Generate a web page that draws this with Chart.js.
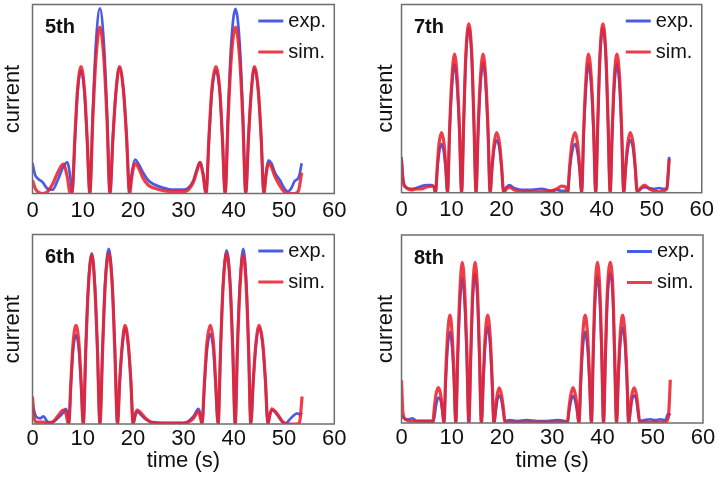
<!DOCTYPE html>
<html>
<head>
<meta charset="utf-8">
<script src="https://cdn.jsdelivr.net/npm/chart.js@4.4.1/dist/chart.umd.min.js"></script>
<style>
  html, body { margin: 0; padding: 0; background: #fff; }
  #wrap { position: relative; width: 718px; height: 481px; overflow: hidden; }
  #wrap canvas { position: absolute; }
</style>
</head>
<body>
<div id="wrap">
  <canvas id="p5" width="359" height="230" style="left:0;top:0"></canvas>
  <canvas id="p7" width="359" height="230" style="left:359px;top:0"></canvas>
  <canvas id="p6" width="359" height="251" style="left:0;top:230px"></canvas>
  <canvas id="p8" width="359" height="251" style="left:359px;top:230px"></canvas>
</div>
<script>
// values, current normalised to the panel height
const xTicks = [0, 10, 20, 30, 40, 50, 60];

const t5 = [0, 0.5, 1, 2, 3, 4, 5, 6.1, 6.9, 7.5,
  7.9, 8.45, 8.95, 9.65, 10.35, 10.85, 11.4,
  12.0, 12.6, 13.4, 14.2, 14.8, 15.4,
  16.0, 16.6, 17.3, 18.1, 18.7, 19.3,
  19.7, 20.4, 21, 22, 23, 24, 26, 28, 30, 31, 32, 32.7, 33.3, 33.9,
  34.5, 35.1, 35.65, 36.45, 37.25, 37.75, 38.3,
  38.9, 39.5, 40.35, 41.2, 41.8, 42.4,
  42.95, 43.5, 44.1, 44.9, 45.45, 46.0,
  46.4, 46.9, 47.5, 48.2, 49.2, 50.0, 50.8, 51.5, 52.1, 52.8, 53.1, 53.5];
const exp5 = [0.16, 0.10, 0.08, 0.06, 0.025, 0.02, 0.07, 0.14, 0.165, 0.09,
  0, 0.29, 0.53, 0.65, 0.53, 0.29, 0,
  0.44, 0.79, 0.98, 0.79, 0.44, 0,
  0.30, 0.54, 0.665, 0.54, 0.30, 0,
  0.10, 0.18, 0.16, 0.11, 0.07, 0.05, 0.03, 0.02, 0.02, 0.03, 0.07, 0.13, 0.165, 0.11,
  0, 0.29, 0.53, 0.65, 0.53, 0.29, 0,
  0.44, 0.79, 0.977, 0.79, 0.44, 0,
  0.30, 0.54, 0.665, 0.54, 0.30, 0,
  0.10, 0.175, 0.16, 0.11, 0.07, 0.03, 0.01, 0.03, 0.065, 0.08, 0.10, 0.16];
const sim5 = [0.07, 0.03, 0.01, 0, 0.01, 0.05, 0.11, 0.155, 0.09, 0,
  0.02, 0.31, 0.55, 0.672, 0.54, 0.30, 0,
  0.40, 0.71, 0.88, 0.71, 0.40, 0,
  0.30, 0.54, 0.672, 0.54, 0.30, 0,
  0.08, 0.16, 0.14, 0.08, 0.045, 0.03, 0.015, 0.01, 0.01, 0.02, 0.06, 0.12, 0.165, 0.10,
  0, 0.31, 0.55, 0.672, 0.54, 0.30, 0,
  0.40, 0.71, 0.88, 0.71, 0.40, 0,
  0.30, 0.54, 0.672, 0.54, 0.30, 0,
  0.09, 0.16, 0.14, 0.09, 0.04, 0.01, 0, 0, 0, 0.01, 0.04, 0.11];

const t6 = [0, 0.3, 0.7, 1.5, 2.2, 3.1, 4, 5, 6.1, 6.6, 7.0,
  7.2, 7.65, 8.05, 8.65, 9.25, 9.65, 10.1,
  10.6, 11.1, 11.8, 12.4, 12.9, 13.4,
  13.95, 14.45, 15.15, 15.85, 16.35, 16.9,
  17.35, 17.85, 18.4, 19.05, 19.55, 20.0,
  20.4, 20.8, 21.5, 22.3, 23.2, 24, 26, 28, 30, 31, 32, 33.0, 33.4,
  33.7, 34.2, 34.65, 35.35, 36.0, 36.4, 36.9,
  37.4, 37.9, 38.6, 39.3, 39.8, 40.3,
  40.75, 41.25, 41.9, 42.5, 42.95, 43.4,
  43.9, 44.4, 45.05, 45.8, 46.3, 46.8,
  47.2, 47.6, 48.3, 49.0, 49.6, 50.4, 51.0, 51.7, 52.6, 53.1, 53.6];
const exp6 = [0.10, 0.07, 0.04, 0.03, 0.04, 0.01, 0.01, 0.03, 0.06, 0.08, 0.05,
  0, 0.21, 0.38, 0.47, 0.38, 0.21, 0,
  0.40, 0.73, 0.90, 0.73, 0.40, 0,
  0.42, 0.75, 0.924, 0.75, 0.42, 0,
  0.23, 0.41, 0.506, 0.41, 0.23, 0,
  0.04, 0.065, 0.05, 0.03, 0.015, 0.01, 0.005, 0.005, 0.005, 0.015, 0.04, 0.08, 0.05,
  0, 0.21, 0.38, 0.475, 0.38, 0.21, 0,
  0.41, 0.74, 0.917, 0.74, 0.41, 0,
  0.42, 0.75, 0.924, 0.75, 0.42, 0,
  0.23, 0.41, 0.506, 0.41, 0.23, 0,
  0.05, 0.074, 0.06, 0.035, 0.015, 0.005, 0.02, 0.04, 0.056, 0.05, 0.06];
const sim6 = [0.145, 0.04, 0.01, 0.01, 0.01, 0.005, 0.01, 0.04, 0.074, 0.06, 0.01,
  0, 0.23, 0.42, 0.52, 0.42, 0.23, 0,
  0.40, 0.72, 0.894, 0.72, 0.40, 0,
  0.40, 0.73, 0.90, 0.73, 0.40, 0,
  0.23, 0.42, 0.52, 0.42, 0.23, 0,
  0.05, 0.074, 0.06, 0.035, 0.015, 0.005, 0.005, 0.005, 0.005, 0.01, 0.03, 0.065, 0.03,
  0, 0.23, 0.42, 0.52, 0.42, 0.23, 0,
  0.40, 0.73, 0.90, 0.73, 0.40, 0,
  0.40, 0.72, 0.894, 0.72, 0.40, 0,
  0.23, 0.42, 0.52, 0.42, 0.23, 0,
  0.05, 0.08, 0.065, 0.04, 0.015, 0, 0, 0, 0, 0.01, 0.145];

const t7 = [0, 0.3, 0.8, 2, 3, 4, 5, 6, 6.5,
  6.8, 7.15, 7.5, 8.0, 8.5, 8.85, 9.2,
  9.6, 10.05, 10.6, 11.15, 11.6, 12.0,
  12.45, 12.85, 13.45, 14.05, 14.45, 14.9,
  15.3, 15.75, 16.3, 16.85, 17.3, 17.7,
  18.1, 18.5, 19.0, 19.6, 20.0, 20.4,
  21.0, 21.6, 22.5, 24, 26, 28, 30, 31, 32, 32.8,
  33.2, 33.6, 34.05, 34.7, 35.2, 35.6, 36.0,
  36.4, 36.85, 37.35, 37.95, 38.4, 38.8,
  39.25, 39.65, 40.25, 40.85, 41.25, 41.7,
  42.1, 42.5, 43.05, 43.6, 44.0, 44.4,
  44.8, 45.2, 45.7, 46.3, 46.7, 47.1,
  47.8, 48.6, 49.5, 50.5, 51.5, 52.3, 53.0, 53.5];
const exp7 = [0.19, 0.08, 0.03, 0.02, 0.025, 0.035, 0.04, 0.04, 0.03,
  0, 0.12, 0.21, 0.26, 0.21, 0.12, 0,
  0.31, 0.55, 0.68, 0.55, 0.31, 0,
  0.39, 0.71, 0.874, 0.71, 0.39, 0,
  0.31, 0.56, 0.69, 0.56, 0.31, 0,
  0.13, 0.23, 0.28, 0.23, 0.13, 0.01,
  0.03, 0.04, 0.025, 0.015, 0.015, 0.02, 0.01, 0.015, 0.01, 0.01,
  0, 0.12, 0.21, 0.26, 0.21, 0.12, 0,
  0.31, 0.55, 0.685, 0.55, 0.31, 0,
  0.39, 0.71, 0.874, 0.71, 0.39, 0,
  0.31, 0.55, 0.685, 0.55, 0.31, 0,
  0.13, 0.23, 0.28, 0.23, 0.13, 0.01,
  0.02, 0.03, 0.025, 0.02, 0.025, 0.02, 0.02, 0.19];
const sim7 = [0.17, 0.06, 0.03, 0.015, 0.02, 0.02, 0.03, 0.035, 0.03,
  0, 0.14, 0.26, 0.32, 0.26, 0.14, 0,
  0.33, 0.60, 0.736, 0.60, 0.33, 0,
  0.40, 0.73, 0.897, 0.73, 0.40, 0,
  0.33, 0.60, 0.736, 0.60, 0.33, 0,
  0.14, 0.26, 0.32, 0.26, 0.14, 0,
  0.02, 0.03, 0.015, 0.005, 0.005, 0.005, 0.01, 0.02, 0.035, 0.03,
  0, 0.14, 0.26, 0.32, 0.26, 0.14, 0,
  0.33, 0.60, 0.736, 0.60, 0.33, 0,
  0.40, 0.73, 0.897, 0.73, 0.40, 0,
  0.33, 0.60, 0.736, 0.60, 0.33, 0,
  0.14, 0.26, 0.32, 0.26, 0.14, 0,
  0.025, 0.04, 0.02, 0.01, 0.005, 0.01, 0.02, 0.18];

const t8 = [0, 0.3, 0.8, 1.5, 2.2, 3, 4, 5, 6.0,
  6.2, 6.55, 6.85, 7.35, 7.8, 8.1, 8.45,
  8.8, 9.15, 9.65, 10.1, 10.45, 10.8,
  11.2, 11.6, 12.1, 12.6, 13.0, 13.4,
  13.8, 14.15, 14.65, 15.15, 15.5, 15.9,
  16.3, 16.65, 17.15, 17.65, 18.0, 18.4,
  18.75, 19.05, 19.45, 19.9, 20.25, 20.6,
  21.5, 23, 25, 27, 29, 31, 32.5,
  33.0, 33.35, 33.7, 34.15, 34.6, 34.95, 35.3,
  35.7, 36.05, 36.55, 37.05, 37.4, 37.8,
  38.15, 38.5, 39.0, 39.5, 39.85, 40.2,
  40.6, 40.95, 41.55, 42.1, 42.4, 42.8,
  43.15, 43.5, 44.0, 44.5, 44.85, 45.2,
  45.55, 45.85, 46.3, 46.75, 47.05, 47.4,
  48.3, 49.5, 50.5, 51.5, 52.5, 53.1, 53.5];
const exp8 = [0.04, 0.03, 0.02, 0.02, 0.025, 0.01, 0.01, 0.01, 0.01,
  0.005, 0.03, 0.09, 0.135, 0.12, 0.07, 0,
  0.22, 0.39, 0.485, 0.39, 0.22, 0,
  0.35, 0.62, 0.769, 0.62, 0.35, 0,
  0.36, 0.64, 0.792, 0.64, 0.36, 0,
  0.23, 0.41, 0.512, 0.41, 0.23, 0,
  0.06, 0.12, 0.147, 0.12, 0.06, 0.01,
  0.015, 0.01, 0.015, 0.01, 0.01, 0.015, 0.01,
  0.005, 0.06, 0.115, 0.144, 0.115, 0.06, 0,
  0.22, 0.39, 0.485, 0.39, 0.22, 0,
  0.35, 0.63, 0.778, 0.63, 0.35, 0,
  0.36, 0.64, 0.796, 0.64, 0.36, 0,
  0.23, 0.41, 0.508, 0.41, 0.23, 0,
  0.06, 0.12, 0.147, 0.12, 0.06, 0.01,
  0.015, 0.02, 0.015, 0.02, 0.015, 0.05, 0.04];
const sim8 = [0.227, 0.05, 0.02, 0.01, 0.01, 0.01, 0.01, 0.01, 0.01,
  0, 0.085, 0.15, 0.188, 0.15, 0.085, 0,
  0.26, 0.46, 0.574, 0.46, 0.26, 0,
  0.38, 0.69, 0.854, 0.69, 0.38, 0,
  0.38, 0.69, 0.854, 0.69, 0.38, 0,
  0.26, 0.46, 0.574, 0.46, 0.26, 0,
  0.085, 0.15, 0.187, 0.15, 0.085, 0.005,
  0.005, 0.005, 0.005, 0.005, 0.005, 0.005, 0.005,
  0, 0.085, 0.15, 0.188, 0.15, 0.085, 0,
  0.26, 0.46, 0.574, 0.46, 0.26, 0,
  0.38, 0.69, 0.854, 0.69, 0.38, 0,
  0.38, 0.69, 0.854, 0.69, 0.38, 0,
  0.26, 0.46, 0.574, 0.46, 0.26, 0,
  0.085, 0.15, 0.187, 0.15, 0.085, 0.005,
  0.005, 0.005, 0.005, 0.005, 0.005, 0.03, 0.23];

const FONT = "'Liberation Sans', Arial, Helvetica, sans-serif";
const EXP_COLOR = '#4a5ce6';
const SIM_COLOR = 'rgba(236, 34, 46, 0.88)';

Chart.defaults.font.family = FONT;

// frame, panel tag and the little legend in the top right corner
const panelDecor = {
  id: 'panelDecor',
  afterDraw(chart, args, opts) {
    const { ctx, chartArea: a } = chart;
    ctx.save();
    ctx.strokeStyle = '#6e6e6e';
    ctx.lineWidth = 1.5;
    ctx.strokeRect(a.left, a.top, a.right - a.left, a.bottom - a.top);

    ctx.fillStyle = '#111';
    ctx.font = `bold 20px ${FONT}`;
    ctx.textBaseline = 'alphabetic';
    ctx.fillText(opts.label, a.left + 12.5, a.top + 28.5);

    ctx.font = `20px ${FONT}`;
    ctx.textBaseline = 'middle';
    chart.data.datasets.forEach((ds, i) => {
      const y = a.top + 16.5 + i * 31;
      ctx.strokeStyle = ds.borderColor;
      ctx.lineWidth = 3;
      ctx.beginPath();
      ctx.moveTo(a.right - 76, y);
      ctx.lineTo(a.right - 51, y);
      ctx.stroke();
      ctx.fillText(ds.label, a.right - 46, y);
    });
    ctx.restore();
  }
};

function toPoints(t, v) {
  return t.map((x, i) => ({ x: x, y: v[i] }));
}

function buildPanel(id, t, exp, sim, cfg) {
  const ctx = document.getElementById(id).getContext('2d');
  return new Chart(ctx, {
    type: 'line',
    data: {
      datasets: [
        { label: 'exp.', data: toPoints(t, exp), borderColor: EXP_COLOR, borderWidth: 2.7, order: 1 },
        { label: 'sim.', data: toPoints(t, sim), borderColor: SIM_COLOR, borderWidth: 3.2, order: 0 }
      ]
    },
    plugins: [panelDecor],
    options: {
      responsive: false,
      animation: false,
      events: [],
      layout: { padding: { top: cfg.padTop, right: cfg.padRight, left: 0, bottom: 0 } },
      elements: {
        point: { radius: 0 },
        line: { cubicInterpolationMode: 'monotone', fill: false }
      },
      plugins: {
        legend: { display: false },
        tooltip: { enabled: false },
        panelDecor: { label: cfg.label }
      },
      scales: {
        x: {
          type: 'linear',
          min: xTicks[0],
          max: xTicks[xTicks.length - 1],
          grid: { display: false, drawTicks: false },
          border: { display: false },
          afterBuildTicks: scale => { scale.ticks = xTicks.map(v => ({ value: v })); },
          ticks: { padding: cfg.tickPad, color: '#111', font: { size: 22 } },
          title: {
            display: cfg.xTitle,
            text: 'time (s)',
            color: '#111',
            font: { size: 22 },
            padding: { top: 0, bottom: 7 }
          },
          afterFit: scale => { scale.height = cfg.xHeight; }
        },
        y: {
          min: 0,
          max: 1,
          grid: { display: false, drawTicks: false },
          border: { display: false },
          ticks: { display: false },
          title: {
            display: true,
            text: 'current',
            color: '#111',
            font: { size: 22 },
            padding: { top: cfg.yTitlePad, bottom: 0 }
          },
          afterFit: scale => { scale.width = cfg.yWidth; }
        }
      }
    }
  });
}

buildPanel('p5', t5, exp5, sim5, { label: '5th', yWidth: 32.5, yTitlePad: 0, padTop: 4.5, padRight: 24.7, xHeight: 36.5, xTitle: false, tickPad: 4 });
buildPanel('p7', t7, exp7, sim7, { label: '7th', yWidth: 42.5, yTitlePad: 13.4, padTop: 4.5, padRight: 15, xHeight: 37.3, xTitle: false, tickPad: 4 });
buildPanel('p6', t6, exp6, sim6, { label: '6th', yWidth: 32.5, yTitlePad: 0, padTop: 4.5, padRight: 24.7, xHeight: 57, xTitle: true, tickPad: 1.5 });
buildPanel('p8', t8, exp8, sim8, { label: '8th', yWidth: 42.5, yTitlePad: 13.4, padTop: 5, padRight: 15, xHeight: 58, xTitle: true, tickPad: 1.5 });
</script>
</body>
</html>
